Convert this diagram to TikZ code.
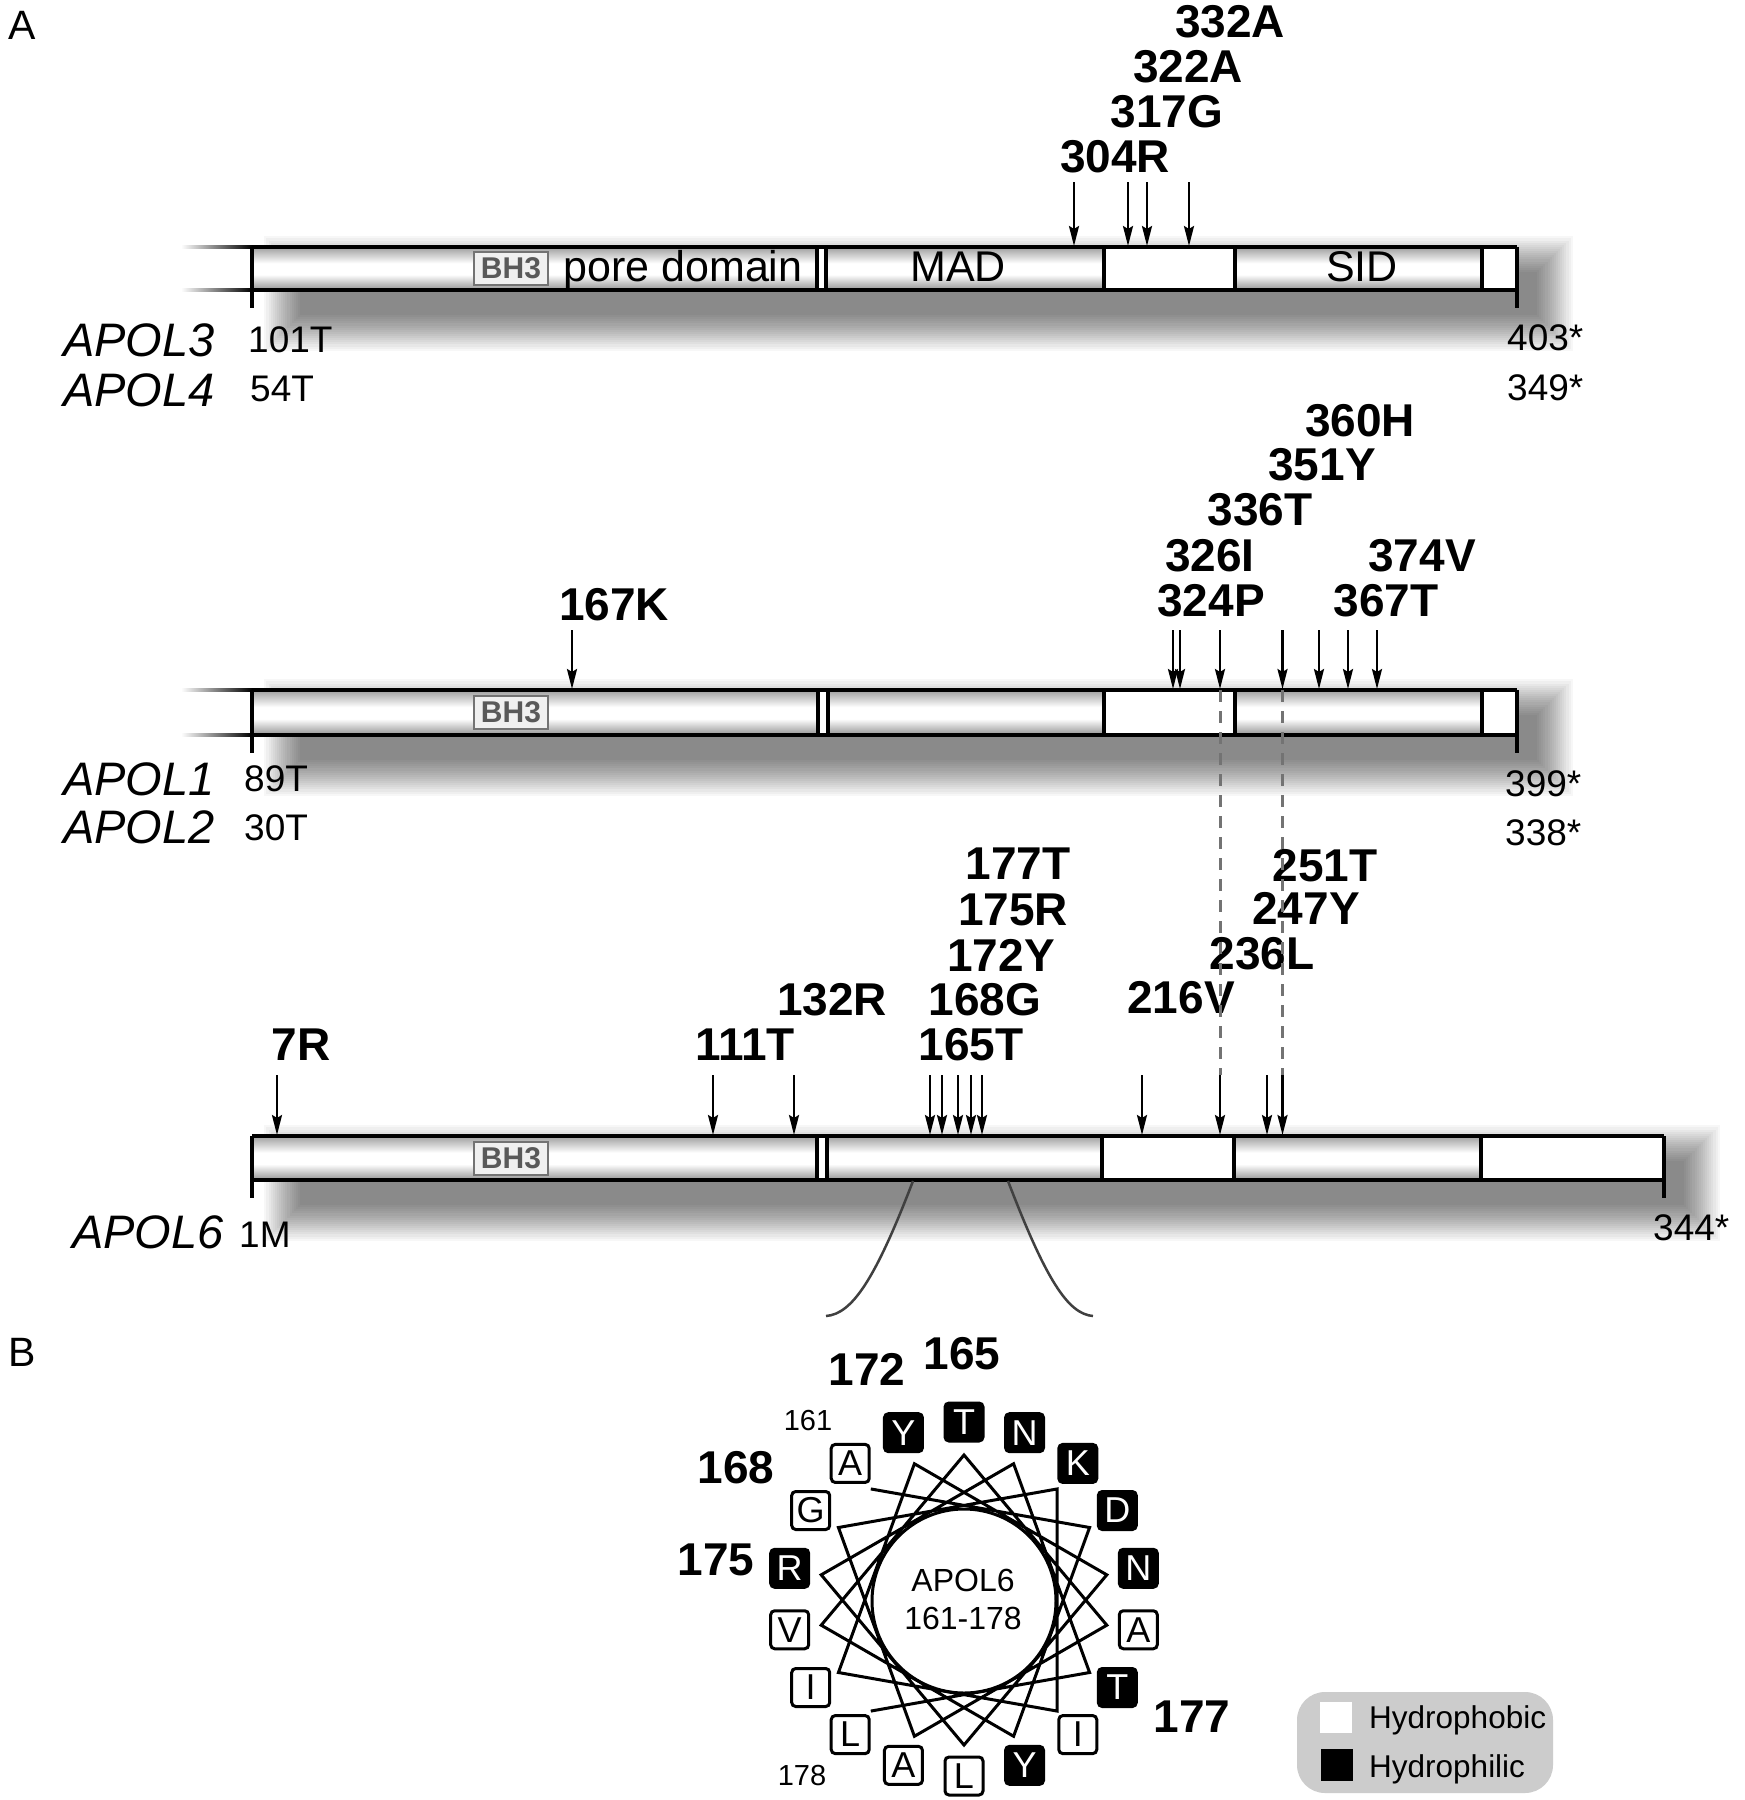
\documentclass[tikz,border=0pt]{standalone}
\usepackage{fontspec}
\setmainfont{Liberation Sans}
\usetikzlibrary{arrows.meta}
\pgfdeclareverticalshading{barshade}{100bp}{color(0bp)=(black!42); color(25bp)=(black!42); color(43bp)=(white); color(56bp)=(white); color(75bp)=(black!38); color(100bp)=(black!38)}
\newcommand\fs[1]{\fontsize{#1}{#1}\selectfont}
% #1 yt, #2 yb, #3 x right, #4 white-seg start, #5 white-seg end, #6 last white start, #7 double line left, #8 double line right
\newcommand\apolbar[8]{%
  \foreach \k in {0,...,17}{\fill[black,opacity=0.033] ({300-2.1*\k},{#1+25-2.1*\k}) rectangle ({#3+20+2.1*\k},{#2+25+2.1*\k});}
  \fill[white] (252,#1) rectangle (#3,#2);
  \shade[shading=barshade] (252,#1) rectangle (#7,#2);
  \shade[shading=barshade] (#8,#1) rectangle (#4,#2);
  \shade[shading=barshade] (#5,#1) rectangle (#6,#2);
  \draw[outline] (252,#1) -- (#3,#1);
  \draw[outline] (252,#2) -- (#3,#2);
  \draw[outline] (252,#1) -- (252,#2+18);
  \draw[outline] (#3,#1) -- (#3,#2+18);
  \foreach \x in {#4,#5,#6,#7,#8}{\draw[outline] (\x,#1) -- (\x,#2);}
}
\newcommand\leadlines[2]{%
  \shade[left color=white,right color=black] (181,#1-1.75) rectangle (252,#1+1.75);
  \shade[left color=white,right color=black] (181,#2-1.75) rectangle (252,#2+1.75);
}
\begin{document}
\begin{tikzpicture}[x=1pt,y=-1pt,
  lab/.style={font=\fs{46}\bfseries, inner sep=0pt},
  num/.style={font=\fs{37}, inner sep=0pt, anchor=west},
  gname/.style={font=\fs{47}\itshape, inner sep=0pt, anchor=east},
  domtext/.style={font=\fs{43}, inner sep=0pt, anchor=base},
  mut/.style={line width=2.5pt, -{Stealth[length=20pt,width=10pt,inset=3pt]}},
  outline/.style={line width=3.5pt},
  dashln/.style={line width=3pt, black!55, dash pattern=on 12pt off 9pt},
  bhbox/.style={draw=black!55, line width=2pt, fill=black!6, text=black!65, font=\fs{30}\bfseries, minimum width=74pt, minimum height=33pt, inner sep=0pt},
  res0/.style={draw, line width=3pt, fill=white, text=black, rounded corners=4pt, minimum size=38pt, inner sep=0pt, font=\fs{36}},
  res1/.style={draw, line width=3pt, fill=black, text=white, rounded corners=4pt, minimum size=38pt, inner sep=0pt, font=\fs{36}},
  star/.style={line width=3pt, line join=miter},
  zoomln/.style={line width=2.5pt, black!75}
]
\useasboundingbox (0,0) rectangle (1745,1800);
\fill[white] (0,0) rectangle (1745,1800);

% panel letters
\node[font=\fs{41}, inner sep=0pt] (pA) at (22,25) {A};
\node[font=\fs{41}, inner sep=0pt] (pB) at (22,1352) {B};

% ---------- APOL3 / APOL4 ----------
\leadlines{247}{290}
\apolbar{247}{290}{1517}{1104}{1235}{1482}{817}{826}
\node[bhbox] (bh1) at (511,268.5) {BH3};
\node[domtext] (pore) at (683,281) {pore domain};
\node[domtext] (mad) at (958,281) {MAD};
\node[domtext] (sid) at (1362,281) {SID};
\node[gname] (g3) at (215,340) {APOL3};
\node[gname] (g4) at (215,390) {APOL4};
\node[num] (n101) at (248,340) {101T};
\node[num] (n54) at (250,389) {54T};
\node[num] (n403) at (1507,338) {403*};
\node[num] (n349) at (1507,388) {349*};
\node[lab] (l304) at (1115,157) {304R};
\node[lab] (l317) at (1167,112) {317G};
\node[lab] (l322) at (1188,67) {322A};
\node[lab] (l332) at (1230,22) {332A};
\foreach \x in {1074,1128,1147,1189}{\draw[mut] (\x,182) -- (\x,246);}

% ---------- APOL1 / APOL2 ----------
\leadlines{690}{735}
\apolbar{690}{735}{1517}{1104}{1235}{1482}{818}{828}
\node[bhbox] (bh2) at (511,712) {BH3};
\node[gname] (g1) at (215,779) {APOL1};
\node[gname] (g2) at (215,827) {APOL2};
\node[num] (n89) at (244,779) {89T};
\node[num] (n30) at (244,828) {30T};
\node[num] (n399) at (1505,784) {399*};
\node[num] (n338) at (1505,833) {338*};
\node[lab] (l167) at (614,605) {167K};
\draw[mut] (572,630) -- (572,689);
\node[lab] (l324) at (1211,601) {324P};
\node[lab] (l326) at (1210,556) {326I};
\node[lab] (l336) at (1260,510) {336T};
\node[lab] (l351) at (1322,465) {351Y};
\node[lab] (l360) at (1360,421) {360H};
\node[lab] (l374) at (1422,556) {374V};
\node[lab] (l367) at (1386,601) {367T};
\foreach \x in {1173,1180,1220,1282.5,1319,1348,1377}{\draw[mut] (\x,630) -- (\x,689);}

% ---------- APOL6 ----------
\apolbar{1136}{1180}{1664}{1102}{1234}{1481}{817}{827}
\node[bhbox] (bh3) at (511,1158.5) {BH3};
\node[gname] (g6) at (224,1232) {APOL6};
\node[num] (n1) at (239,1235) {1M};
\node[num] (n344) at (1653,1228) {344*};
\node[lab] (l7) at (301,1045) {7R};
\node[lab] (l111) at (745,1045) {111T};
\node[lab] (l132) at (832,1000) {132R};
\node[lab] (l165) at (971,1045) {165T};
\node[lab] (l168) at (985,1000) {168G};
\node[lab] (l172) at (1001,955) {172Y};
\node[lab] (l175) at (1013,910) {175R};
\node[lab] (l177) at (1018,864) {177T};
\node[lab] (l216) at (1181,998) {216V};
\node[lab] (l236) at (1262,954) {236L};
\node[lab] (l247) at (1306,908) {247Y};
\node[lab] (l251) at (1325,866) {251T};
\foreach \x in {277,713,794,930,942,958,971,982,1142,1220,1267,1282.5}{\draw[mut] (\x,1075) -- (\x,1135);}

% dashed correspondence lines
\coordinate (d1t) at (1220,690); \coordinate (d1b) at (1220,1075);
\coordinate (d2t) at (1282.5,690); \coordinate (d2b) at (1282.5,1075);
\draw[dashln] (d1t) -- (d1b);
\draw[dashln] (d2t) -- (d2b);

% zoom lines to helical wheel
\coordinate (zl0) at (913,1181); \coordinate (zl1) at (826,1316);
\coordinate (zr0) at (1008,1181); \coordinate (zr1) at (1093,1316);
\draw[zoomln] (zl0) .. controls (875,1280) and (852,1314) .. (zl1);
\draw[zoomln] (zr0) .. controls (1046,1280) and (1068,1314) .. (zr1);

% ---------- helical wheel ----------
\foreach \n in {161,...,178}{
  \pgfmathsetmacro\ang{90-(\n-165)*100}
  \coordinate (p\n) at ({964+145*cos(\ang)},{1600-145*sin(\ang)});
}
\draw[star] (p161) \foreach \n in {162,...,178}{ -- (p\n)};
\draw[line width=3pt] (964,1601) circle[radius=92];
\foreach \n/\aa/\h in {161/A/0,162/D/1,163/Y/1,164/V/0,165/T/1,166/A/0,167/A/0,168/G/0,169/K/1,170/I/0,171/I/0,172/Y/1,173/N/1,174/L/0,175/R/1,176/N/1,177/T/1,178/L/0}{
  \pgfmathsetmacro\ang{90-(\n-165)*100}
  \node[res\h] (r\n) at ({964+177*cos(\ang)},{1599-177*sin(\ang)}) {\aa};
}
\node[font=\fs{32}, inner sep=0pt] (wh1) at (963,1580) {APOL6};
\node[font=\fs{32}, inner sep=0pt] (wh2) at (963,1618) {161-178};
\node[lab] (h165) at (962,1354) {165};
\node[lab] (h172) at (867,1369) {172};
\node[lab] (h168) at (736,1468) {168};
\node[lab] (h175) at (716,1560) {175};
\node[lab] (h177) at (1192,1717) {177};
\node[font=\fs{29}, inner sep=0pt] (h161) at (808,1420) {161};
\node[font=\fs{29}, inner sep=0pt] (h178) at (802,1775) {178};

% legend
\fill[black!20, rounded corners=28pt] (1297,1692) rectangle (1553,1793);
\fill[white] (1320,1702) rectangle (1352,1733);
\fill[black] (1321,1749) rectangle (1353,1781);
\node[font=\fs{31.5}, inner sep=0pt, anchor=base west] (lg1) at (1369,1728) {Hydrophobic};
\node[font=\fs{31.5}, inner sep=0pt, anchor=base west] (lg2) at (1369,1777) {Hydrophilic};
\end{tikzpicture}
\end{document}
